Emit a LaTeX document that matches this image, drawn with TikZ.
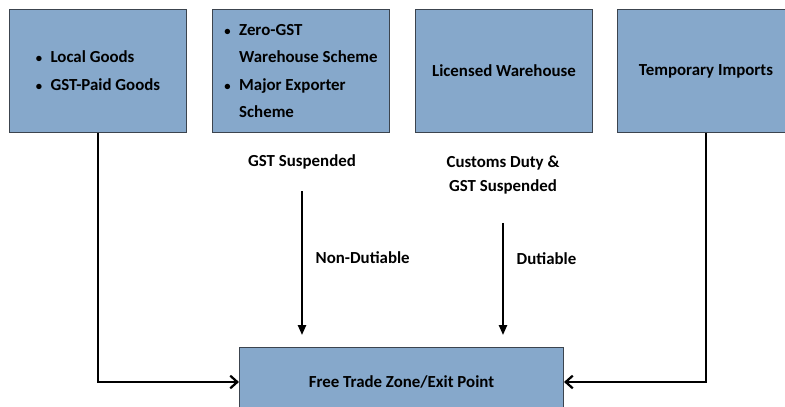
\documentclass[tikz,border=0pt]{standalone}
\usepackage{fontspec}
\setmainfont{Carlito}
\usepackage{xcolor}
\usetikzlibrary{arrows.meta,positioning,calc}
\definecolor{boxblue}{RGB}{134,168,203}
\definecolor{boxedge}{RGB}{60,68,78}
\newcommand{\smallbullet}{{\small\textbullet}}

\begin{document}
\begin{tikzpicture}[x=0.025cm, y=-0.025cm,
    font=\fontsize{12}{14}\selectfont\bfseries,
    zonebox/.style={draw=boxedge, line width=0.7pt, fill=boxblue,
      minimum width=4.4cm, minimum height=3.05cm, align=left, inner sep=0pt},
    flowline/.style={line width=2pt, -{Straight Barb[length=5pt, width=9pt, line width=1.6pt]}},
    midline/.style={line width=0.8pt, -{Triangle[length=7pt, width=6pt]}}]
  \clip (0,0) rectangle (785,407);

  % source boxes
  \node[zonebox] (local) at (98,71)
    {\renewcommand{\arraystretch}{1.4}%
     \begin{tabular}{@{}l@{\hspace{6pt}}l@{}}
       \smallbullet & Local Goods\\
       \smallbullet & GST-Paid Goods
     \end{tabular}};
  \node[zonebox] (zerogst) at (301,71)
    {\renewcommand{\arraystretch}{1.4}%
     \begin{tabular}{@{}l@{\hspace{6pt}}l@{}}
       \smallbullet & Zero-GST\\
                    & Warehouse Scheme\\
       \smallbullet & Major Exporter\\
                    & Scheme
     \end{tabular}};
  \node[zonebox] (licensed) at (504,71) {Licensed Warehouse};
  \node[zonebox] (temp) at (706,71) {Temporary Imports};

  % destination
  \node[zonebox, minimum width=8.1cm, minimum height=1.7cm] (ftz) at (401.5,382)
    {Free Trade Zone/Exit Point};

  % status labels
  \node (gstsusp) at (302,162) {GST Suspended};
  \node[align=center, font=\fontsize{12}{17}\selectfont\bfseries] (dutysusp) at (503,175)
    {Customs Duty \&\\GST Suspended};

  % connectors
  \draw[flowline] (local.south) |- (ftz.west);
  \draw[flowline] (temp.south) |- (ftz.east);
  \draw[midline, shorten <=12pt, shorten >=9pt] (gstsusp.south) -- (gstsusp.south |- ftz.north)
    node[pos=0.48, right=6pt] (nondut) {Non-Dutiable};
  \draw[midline, shorten <=17pt, shorten >=9pt] (dutysusp.south) -- (dutysusp.south |- ftz.north)
    node[pos=0.4, right=6pt] (dut) {Dutiable};
\end{tikzpicture}
\end{document}
